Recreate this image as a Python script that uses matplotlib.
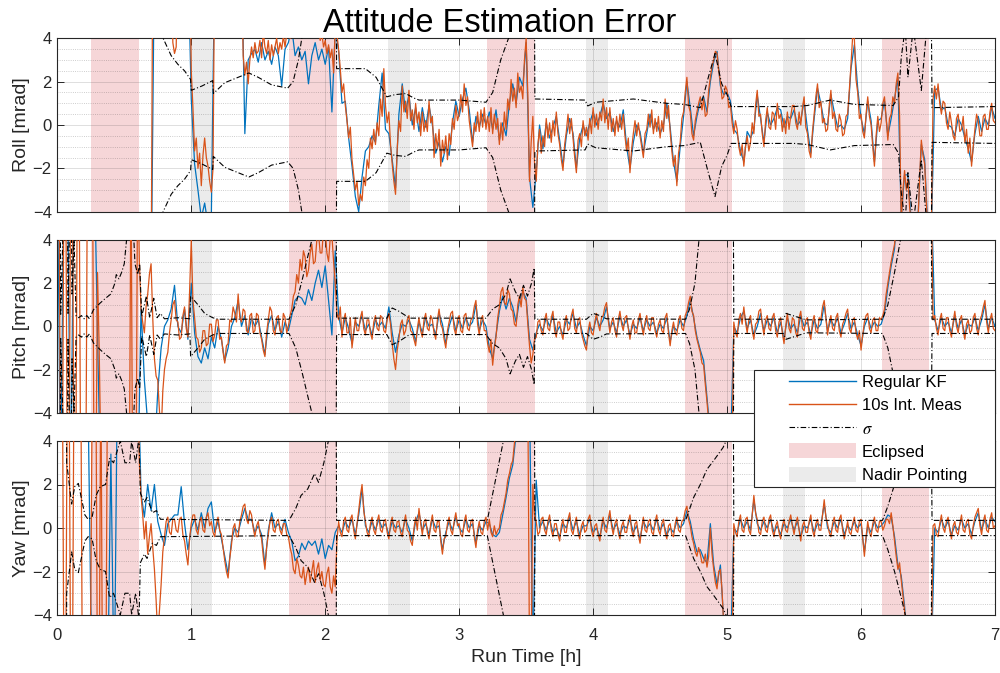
import numpy as np
import matplotlib
matplotlib.use("Agg")
import matplotlib.pyplot as plt
from matplotlib.lines import Line2D
from matplotlib.patches import Patch, Rectangle
from matplotlib.ticker import MultipleLocator

plt.rcParams['font.family'] = ['Liberation Sans', 'DejaVu Sans']
plt.rcParams['mathtext.fontset'] = 'stix'

# ---------------------------------------------------------------------------
# Attitude estimation error [mrad]
#   Regular KF         : sampled every 0.025 h  (281 samples, 0 .. 7 h)
#   10s Int. Meas      : sampled every 0.0125 h (561 samples, 0 .. 7 h)
# ---------------------------------------------------------------------------
time_kf = np.arange(281) * 0.025
time_int = np.arange(561) * 0.0125

roll_kf = [
    -8, -8, -8, -8, -8, -8, -8, -8, -8, -8,
    -8, -8, -8, -8, -8, -8, -8, -8, -8, -8,
    -8, -8, -8, -8, -8, -8, -8, -8, -8, 8,
    8, 8, 8, 8, 8, 8, 8, 8, 8, 8,
    1.2, -1.8, -3.0, -4.3, -3.6, -4.6, -4.2, 8, 8, 8,
    8, 8, 8, 8, 8, 8, -0.4, 3.0, 3.3, 3.5,
    2.9, 3.8, 3.0, 3.4, 2.8, 3.6, 3.2, 1.8, 3.5, 3.8,
    4.5, 3.2, 3.6, 3.0, 3.4, 1.9, 3.2, 3.8, 3.0, 3.5,
    2.8, 3.6, 0.6, 4.4, 3.4, 1.0, 1.1, -0.6, -1.9, -3.3,
    -4.0, -2.4, -1.2, -1.0, -0.5, -0.8, 0.9, 2.4, -0.2, -0.4,
    -1.6, -2.9, 0.5, 1.9, 0.6, 1.4, 0.0, 0.8, -0.3, 0.8,
    -0.1, 0.9, 0.0, -1.3, -0.8, -1.7, -1.0, -1.4, 0.1, 1.1,
    0.4, 1.2, 1.7, 0.7, -0.8, 0.4, -0.1, 0.5, 0.0, 0.6,
    -0.2, 0.7, -0.7, 0.1, -0.5, 1.0, 1.9, 1.0, 2.2, 1.8,
    3.8, -2.4, -3.8, -2.2, 0.0, -1.1, 0.1, -0.6, -0.1, 0.4,
    -0.7, -1.9, -0.5, 0.3, -0.4, -2.0, -0.6, 0.0, -0.5, 0.1,
    0.6, 0.0, 0.4, 1.0, 0.3, 0.6, -0.3, 0.2, -0.1, 0.7,
    -1.0, -2.0, -0.8, 0.0, -0.3, -1.3, -0.4, 0.5, -0.2, 0.1,
    -0.4, 0.0, 1.0, -0.1, -1.7, -2.6, -1.0, 0.4, 2.0, 0.8,
    -0.5, 0.4, 1.1, 1.3, 0.6, 2.0, 2.9, 3.4, 1.8, 1.4,
    1.5, 1.1, -0.2, -0.4, -1.2, -1.7, -0.3, -0.6, -0.2, 1.4,
    0.3, -0.8, 0.6, 0.0, 0.3, 0.8, 0.7, -0.1, 0.4, 0.3,
    0.7, 0.0, 0.2, 1.1, -0.2, -1.3, 0.3, 1.7, 1.0, 0.1,
    0.0, 1.4, 0.6, -0.1, 0.0, -0.2, 0.3, 2.6, 3.7, 1.7,
    0.3, -0.4, 1.1, 0.2, -1.7, 0.2, 0.3, 1.1, -0.5, 0.3,
    1.2, 2.2, -4.3, -2.3, -2.3, -4.5, -5.0, -4.3, -0.9, -1.6,
    -5.0, -5.0, 1.6, 1.7, 0.7, 0.8, 0.0, -0.1, -0.5, 0.3,
    0.0, -0.6, -1.1, -1.7, -0.4, 0.4, -0.3, 0.3, 0.0, 0.8,
    0.3,
]
roll_int = [
    -8, -8, -8, -8, -8, -8, -8, -8, -8, -8, -8, -8, -8, -8, -8, -8, -8, -8, -8, -8,
    -8, -8, -8, -8, -8, -8, -8, -8, -8, -8, -8, -8, -8, -8, -8, -8, -8, -8, -8, -8,
    -8, -8, -8, -8, -8, -8, -8, -8, -8, -8, -8, -8, -8, -8, -8, -8, -8, 8, 8, 8,
    8, 8, 8, 8, 8, 8, 8, 8, 8, 3.8, 3.3, 3.6, 8, 8, 8, 8, 8, 8, 8, 8,
    2.5, 0.8, -1.2, -0.6, -2.0, -1.3, -2.8, -1.4, -0.6, -1.5, -1.9, -2.6, -3.1, -2.0, 8, 8, 8, 8, 8, 8,
    8, 8, 8, 8, 8, 8, 8, 8, 8, 8, 8, 3.2, 2.3, 2.9, 1.9, 3.0, 3.6, 3.1, 3.8, 3.3,
    3.4, 3.9, 3.1, 4.3, 3.6, 3.3, 3.9, 3.0, 3.7, 3.2, 3.6, 4.0, 3.3, 3.8, 3.5, 4.1, 3.6, 4.2, 4.5, 4.0,
    5.0, 4.5, 4.7, 5.2, 4.8, 4.2, 4.6, 4.9, 4.5, 4.1, 4.4, 4.8, 4.6, 5.1, 4.7, 4.3, 4.5, 3.9, 4.2, 3.6,
    3.9, 3.3, 3.7, 3.1, 3.5, 2.4, 4.5, 4.2, 3.5, 2.6, 1.5, 1.9, 0.9, 0.2, -0.6, -0.1, -1.6, -2.3, -3.0, -2.6,
    -3.7, -3.2, -3.5, -2.4, -2.8, -1.6, -2.0, -0.6, -1.1, -0.2, -0.9, 0.1, -0.5, 1.2, 0.4, 2.6, 0.9, 0.1, 0.6, -0.9,
    -1.8, -2.6, -3.2, -1.1, 0.2, -0.3, 1.8, 0.6, 1.1, 0.3, 1.6, 0.2, 0.7, -0.2, 1.0, 0.1, 0.6, -0.5, 0.6, -0.3,
    0.2, -0.3, 1.1, 0.1, 0.4, -1.5, -0.4, -1.1, -0.2, -1.9, -0.7, -1.3, -0.5, -1.6, -0.4, -0.9, 0.3, -0.2, 0.9, 0.2,
    0.5, 1.4, 0.6, 1.9, 0.9, 1.3, 0.2, -0.4, -1.0, 0.1, -0.3, 0.6, -0.3, 0.7, -0.1, 0.8, -0.2, 0.4, -0.3, 0.8,
    -0.4, 0.5, -0.2, 0.3, -0.9, 0.1, -0.7, 0.6, -0.2, 1.2, 0.7, 2.1, 1.1, 1.7, 0.8, 2.4, 1.5, 1.8, 1.2, 3.0,
    4.0, 1.4, -2.6, -0.8, 0.4, -1.7, -2.6, -0.9, -0.2, -1.3, -0.5, -1.0, 0.3, -0.6, 0.1, -0.8, 0.2, -0.5, 0.6, -0.4,
    -0.9, -1.6, -2.1, -0.9, -0.3, 0.5, -0.4, 0.3, -0.6, -1.5, -2.2, -0.7, -0.4, -1.0, 0.2, -0.5, -0.1, -0.7, 0.3, -0.4,
    0.8, -0.1, 0.5, -0.2, 0.6, 0.2, 1.2, 0.1, 0.8, -0.2, 0.8, -0.3, 0.3, -0.5, 0.4, -0.3, 0.5, -0.2, 0.5, -0.5,
    -1.2, -0.6, -2.2, -1.1, -0.4, 0.2, -0.5, 0.1, -0.5, -1.0, -1.5, -0.4, -0.2, 0.5, -0.1, 0.7, -0.4, 0.3, -0.3, 0.4,
    -0.6, 0.2, -0.3, 1.2, 0.3, 0.9, -0.3, -1.2, -1.9, -1.4, -2.8, -1.3, -0.8, 0.3, 0.6, 1.5, 2.2, 0.9, 0.6, -0.4,
    -0.7, 0.2, 0.6, 1.0, 1.3, 0.7, 1.2, 0.4, 0.5, 1.6, 2.2, 2.7, 3.0, 3.4, 3.3, 2.5, 2.0, 1.2, 1.3, 1.8,
    1.6, 0.8, 0.9, 0.1, -0.4, 0.2, -0.2, -1.0, -1.4, -0.9, -1.9, -1.0, -0.5, -1.2, -0.8, 0.1, -0.4, 0.9, 1.6, 0.4,
    0.5, -0.4, -1.0, 0.2, 0.8, -0.1, -0.2, 0.6, 0.5, -0.2, 1.0, 0.3, 0.5, -0.3, 0.3, -0.4, 0.6, -0.2, 0.4, 0.9,
    0.9, 0.1, -0.2, 0.6, 0.0, 0.8, 1.3, -0.1, -0.4, -1.2, -1.5, -0.3, 0.5, 1.3, 1.9, 0.8, 1.1, 0.1, 0.3, -0.3,
    -0.2, 0.9, 1.6, 0.3, 0.6, -0.2, -0.3, 0.5, 0.2, -0.5, -0.4, 0.4, 0.5, 1.6, 2.8, 4.1, 4.0, 2.1, 1.5, 0.3,
    0.5, -0.3, -0.6, 0.5, 1.3, 0.4, 0.0, -1.0, -1.9, -0.5, 0.4, -0.3, 0.1, 1.0, 1.3, 0.3, -0.7, 0.3, 0.5, 1.3,
    1.0, 1.9, 2.4, 0.5, -4.5, -3.0, -2.1, -3.0, -2.5, -3.8, -4.5, -5.0, -5.0, -5.0, -4.5, -2.4, -0.7, -1.4, -1.8, -3.6,
    -5.0, -5.0, -5.0, 1.2, 1.8, 1.2, 1.9, 1.0, 0.5, 1.1, 1.0, 0.1, -0.2, 0.6, 0.1, -0.5, -0.7, 0.3, 0.5, -0.3,
    -0.2, 0.4, -0.8, -0.2, -1.3, -0.6, -1.9, -1.0, -0.2, 0.5, 0.2, -0.5, -0.5, 0.4, 0.5, -0.2, -0.2, 0.6, 1.0, 0.2,
    0.1,
]

pitch_kf = [
    8, -8, 8, 8, -8, 8, 8, 8, 8, 8,
    8, 8, -0.3, -8, -8, -8, -8, -8, -8, -8,
    -8, -8, -8, -8, -8, 0.9, -2.5, -4.5, -6, -6,
    -3.0, -1.0, 0.0, 0.3, 0.8, 1.9, 0.0, -0.3, 0.8, -0.6,
    2.0, -0.3, -1.4, -1.7, -1.0, -1.5, -0.5, -1.0, 0.0, -0.6,
    -1.6, -1.0, 0.0, 0.4, 1.2, 0.0, 0.5, -0.4, 0.4, 0.0,
    0.3, -0.5, -1.3, 0.1, 0.5, -0.2, 0.3, -0.5, 0.2, -0.2,
    0.5, 1.2, 1.4, 1.3, 1.0, 1.7, 1.2, 2.0, 2.6, 1.8,
    2.8, 1.2, -0.4, 3.5, 0.5, -0.3, 0.4, -0.1, -0.8, 0.2,
    0.0, 0.5, -0.2, 0.1, -0.4, 0.3, 0.0, 0.2, -0.1, 0.9,
    -0.3, -1.2, -0.4, 0.1, 0.0, 0.3, -0.1, -0.7, 0.2, -0.3,
    0.4, 0.0, 0.1, -0.4, 0.6, 0.1, -0.8, 0.0, 0.5, -0.2,
    0.3, -0.1, 0.4, 0.0, 0.2, 1.0, -0.2, 0.3, 0.0, -1.0,
    -1.5, -0.4, 0.7, 1.4, 0.8, 1.3, 0.9, 0.2, 1.2, 1.6,
    1.3, -0.6, -1.1, -0.3, 0.1, -0.2, 0.4, 0.0, 0.5, -0.3,
    0.0, -0.4, 0.3, 0.1, 0.6, -0.1, 0.2, -0.4, -0.9, 0.0,
    -0.2, 0.4, 0.0, 0.3, 0.9, -0.1, 0.2, -0.3, 0.5, 0.0,
    0.3, -0.4, 0.1, -0.1, 0.4, -0.2, 0.3, 0.0, 0.2, -0.3,
    0.1, -0.1, 0.4, -0.7, 0.0, -0.2, 0.3, 0.0, 0.5, 1.2,
    0.4, -0.5, -1.1, -1.6, -3.3, -5, -6, -6, -6, -6,
    -6, -6, 0.0, -0.3, 0.4, 0.7, -0.1, 0.3, -0.4, 0.0,
    0.6, -0.2, 0.3, 0.0, 0.4, -0.3, 0.2, -0.6, 0.4, -0.1,
    0.1, -0.3, 0.5, 0.0, 0.2, -0.4, 0.3, -0.1, 0.1, 1.0,
    -0.2, 0.3, 0.0, 0.4, -0.3, 0.1, 0.6, -0.1, 0.2, -0.4,
    -0.9, 0.0, 0.4, -0.1, 0.2, 0.0, 0.1, 0.6, 1.8, 2.8,
    3.6, 6, 6, 6, 6, 6, 6, 6, 6, 6,
    6, 6, 0.3, -0.2, 0.4, 0.0, 0.2, -0.3, 0.5, -0.1,
    0.3, -0.4, 0.1, 0.0, 0.4, -0.2, 0.3, 1.0, -0.1, 0.4,
    0.0,
]
pitch_int = [
    8, 8, -8, -8, 8, 8, -8, -8, 8, 8, -8, -8, 8, 8, -8, -8, -8, -8, 8, 8,
    8, 8, -8, -8, 2.5, -1.0, -6, -8, -8, -8, -8, -8, -8, -8, -8, -8, -8, -8, -8, -8,
    -8, -8, -8, -8, 8, -8, -8, -8, 8, 3.0, 0.8, 0.2, -0.3, 0.9, 1.5, 2.4, 2.9, 0.4, -1.5, -2.3,
    -2.5, -3.9, -5.0, -3.0, -2.0, -1.5, -1.2, -0.3, 0.3, 1.0, 1.2, 0.3, 0.2, -0.6, -0.5, 0.5, 0.9, -0.1, -0.5, 1.6,
    4.0, 1.2, 0.4, -0.5, -0.6, -1.2, -1.0, -0.2, -0.2, -0.9, -0.8, 0.1, 0.1, -0.7, -0.4, 0.3, 0.3, -0.6, -0.5, -1.2,
    -1.7, -0.9, -0.8, 0.3, 0.2, 0.9, 0.6, 0.2, 1.5, 0.4, 0.2, 0.8, 0.7, -0.2, -0.3, 0.5, 0.6, -0.3, -0.2, 0.6,
    0.5, -0.3, -0.6, -1.1, -1.4, -0.3, 0.3, 0.9, 0.7, -0.2, -0.4, 0.4, 0.5, -0.2, -0.3, 0.6, 0.4, -0.3, 0.0, 0.5,
    0.8, 1.4, 1.6, 2.4, 2.0, 3.1, 2.6, 3.5, 3.2, 2.3, 2.6, 3.4, 3.8, 2.9, 3.0, 4.0, 4.3, 3.4, 3.4, 4.5,
    4.5, 3.4, 3.0, 4.1, 4.2, 3.0, 2.0, 0.6, 0.3, 0.9, -0.5, 0.3, 0.6, -0.3, -0.3, 0.4, -1.0, -0.3, 0.4, -0.2,
    -0.2, 0.4, 0.7, -0.1, -0.4, 0.3, 0.3, -0.3, -0.6, 0.2, 0.5, -0.1, -0.2, 0.5, 0.4, -0.2, -0.3, 0.3, 0.6, 0.1,
    -0.8, -1.5, -2.0, -1.1, -0.6, 0.1, 0.3, -0.4, -0.2, 0.3, 0.5, -0.2, -0.3, -0.6, -0.9, -0.1, 0.4, -0.2, -0.5, 0.3,
    0.6, -0.1, -0.2, 0.5, 0.3, -0.3, -0.6, 0.3, 0.8, 0.1, -0.1, -0.6, -1.0, -0.2, 0.2, 0.6, 0.7, -0.1, -0.4, 0.3,
    0.5, -0.2, -0.3, 0.5, 0.6, -0.1, -0.2, 0.3, 0.4, 0.9, 1.2, 0.1, -0.4, 0.3, 0.5, -0.2, -0.2, -0.8, -1.2, -0.6,
    -1.8, -1.0, -0.5, 0.4, 0.9, 1.6, 1.8, 1.1, 1.0, 1.7, 1.5, 0.8, 0.7, 0.1, 0.0, 1.0, 1.4, 0.9, 1.8, 1.3,
    1.2, 0.1, -0.9, -1.7, -1.3, -0.6, -0.5, 0.2, 0.3, -0.2, -0.4, 0.3, 0.6, -0.1, -0.2, 0.4, 0.7, -0.2, -0.5, 0.2,
    0.2, -0.3, -0.6, 0.2, 0.5, -0.2, -0.1, 0.5, 0.8, -0.1, -0.3, 0.3, 0.4, -0.3, -0.6, -0.9, -1.1, -0.2, 0.2, -0.3,
    -0.4, 0.2, 0.6, 0.1, -0.2, 0.4, 0.5, 0.9, 1.1, 0.3, -0.3, 0.2, 0.4, -0.2, -0.5, 0.3, 0.7, 0.1, -0.2, 0.4,
    0.5, -0.1, -0.6, 0.0, 0.3, -0.3, -0.3, 0.3, 0.6, 0.0, -0.4, 0.2, 0.5, -0.1, -0.2, 0.4, 0.4, -0.2, -0.5, 0.1,
    0.3, -0.2, -0.3, 0.4, 0.6, -0.3, -0.9, -0.2, 0.2, -0.3, -0.4, 0.3, 0.5, -0.1, -0.2, 0.5, 0.7, 1.1, 1.4, 0.7,
    0.5, -0.2, -0.6, -0.9, -1.2, -1.7, -1.8, -2.7, -3.5, -4.4, -5, -6, -6, -6, -6, -6, -6, -6, -6, -6,
    -6, -6, -6, -6, 0.2, -0.3, -0.5, 0.3, 0.6, 0.1, 0.9, 0.2, -0.3, 0.3, 0.5, -0.2, -0.6, 0.1, 0.2, 0.7,
    0.8, 0.1, -0.4, 0.3, 0.5, -0.1, -0.2, 0.4, 0.6, -0.2, -0.5, 0.2, 0.4, -0.3, -0.8, 0.0, 0.6, -0.1, -0.3, 0.4,
    0.3, -0.3, -0.5, 0.4, 0.7, -0.1, -0.2, 0.3, 0.4, -0.3, -0.6, 0.2, 0.5, -0.2, -0.3, 0.4, 0.3, 0.9, 1.2, 0.4,
    -0.4, 0.2, 0.5, -0.1, -0.2, 0.4, 0.6, -0.2, -0.5, 0.1, 0.3, 0.6, 0.8, -0.1, -0.3, 0.3, 0.4, -0.3, -0.6, -0.2,
    -1.1, -0.4, 0.2, 0.5, 0.6, -0.1, -0.3, 0.3, 0.4, -0.2, -0.2, 0.4, 0.3, 0.5, 0.8, 1.5, 2.0, 2.5, 3.0, 3.4,
    3.8, 4.6, 6, 6, 6, 6, 6, 6, 6, 6, 6, 6, 6, 6, 6, 6, 6, 6, 6, 6,
    6, 6, 6, 0.3, 0.5, -0.1, -0.4, 0.3, 0.6, -0.1, -0.2, 0.4, 0.4, -0.2, -0.5, 0.2, 0.7, 0.0, -0.3, 0.3,
    0.5, -0.2, -0.6, 0.1, 0.3, -0.3, -0.2, 0.4, 0.6, -0.1, -0.4, 0.3, 0.5, 0.9, 1.2, 0.2, -0.3, 0.3, 0.6, -0.1,
    -0.2,
]

yaw_kf = [
    8, 8, 8, 8, 8, 8, 8, 8, 8, 8,
    -3.6, -8, -8, -8, -8, -8, 3.4, -8, 8, 8,
    8, 8, 8, 8, 8, 1.6, 0.5, 2.0, 0.8, 2.0,
    0.3, -0.3, -0.8, 0.2, 0.4, 0.6, 0.6, 1.9, 0.2, -1.0,
    0.0, 0.4, -0.1, 0.7, 0.0, 0.9, 1.2, -0.2, 0.3, -0.5,
    -1.3, -2.1, -0.6, 0.0, -0.2, 0.4, 0.9, 0.4, 0.4, -0.2,
    0.1, -0.3, -1.7, -0.1, 0.7, 0.0, 0.2, -0.1, 0.4, -0.2,
    -0.6, -1.5, -1.3, -0.7, -1.0, -0.6, -0.8, -0.6, -1.2, -0.5,
    -1.4, -0.8, -1.0, -0.2, 0.1, -0.2, 0.3, 0.0, 0.4, -0.3,
    0.6, 1.8, 0.1, -0.2, 0.3, -0.1, 0.4, 0.0, 0.2, -0.3,
    0.3, 0.0, 0.1, -0.2, 0.4, 0.0, -0.6, 0.3, 0.7, -0.1,
    0.2, -0.3, 0.4, 0.0, 0.1, -1.0, -0.2, 0.3, -0.1, 0.5,
    0.0, -0.2, 0.4, 0.0, 0.2, -0.7, 0.1, -0.1, 0.3, 0.2,
    -0.3, -0.4, -0.2, 0.6, 1.4, 2.3, 2.9, 4.3, 6, 6,
    6, 6, -6, 2.2, 0.0, 0.3, -0.1, 0.4, -0.2, 0.0,
    -0.4, 0.2, 0.0, 0.5, -0.1, 0.3, -0.3, 0.1, 0.1, 0.4,
    -0.2, 0.0, -0.4, 0.3, 0.0, 0.6, -0.1, 0.2, -0.3, 0.1,
    0.0, 0.4, -0.2, 0.1, -0.5, 0.3, 0.0, 0.2, -0.1, 0.4,
    -0.1, 0.2, -0.3, 0.0, -0.2, 0.3, 0.0, 0.2, 0.8, 0.3,
    -0.5, -1.1, -1.0, -1.4, -1.6, 0.2, -1.7, -2.6, -1.7, -4.3,
    -6, -6, 0.0, -0.2, 0.4, 0.0, 0.3, -0.1, 1.3, 0.2,
    -0.1, 0.3, 0.0, 0.4, -0.2, 0.1, -0.3, 0.2, 0.0, 0.4,
    -0.1, 0.3, -0.4, 0.1, 0.0, 0.4, -0.2, 0.2, 0.1, 1.1,
    0.0, -0.2, 0.3, 0.0, 0.4, -0.3, 0.1, -0.1, 0.3, 0.0,
    0.2, -1.1, 0.1, -0.2, 0.3, 0.0, 0.1, 0.3, 0.6, 0.5,
    -0.4, -1.7, -2.2, -3.6, -6, -6, -6, -6, -6, -6,
    -6, -6, 0.0, -0.2, 0.4, 0.0, 0.3, -0.3, 0.1, -0.1,
    0.4, 0.0, 0.2, -0.3, 0.3, 0.7, -0.1, 0.4, 0.0, 0.5,
    0.3,
]
yaw_int = [
    8, 8, 8, 8, -8, -8, 8, 8, -8, -8, 8, 8, 8, 8, 8, -8, -8, -8, -8, -8,
    -3.4, 8, 8, 8, -8, -8, 8, -8, -8, -8, 8, 8, 8, 8, 8, 8, 8, 8, 8, 8,
    8, 8, 8, 8, 8, 8, 8, 8, 8, 3.0, 1.5, 0.6, -0.5, 0.3, -1.2, -0.4, 0.2, -0.9, -1.9, -3.3,
    -5.0, -3.8, -2.6, -1.1, -0.4, 0.3, 0.5, -0.2, -0.3, 0.4, 0.4, -0.1, -0.2, 0.4, 0.5, -0.3, -0.6, -1.2, -1.7, -0.5,
    0.2, 0.6, 0.6, -0.1, -0.3, 0.3, 0.5, -0.1, -0.2, 0.5, 0.7, 0.1, 0.3, -0.2, -0.4, 0.2, 0.5, -0.1, -0.3, -0.9,
    -1.5, -2.0, -2.3, -1.4, -0.8, 0.0, 0.2, -0.4, -0.4, 0.3, 0.6, 1.0, 1.1, 0.4, 0.2, 0.8, 0.6, 0.0, -0.4, 0.1,
    0.3, -0.2, -0.5, -1.3, -1.9, -0.9, -0.3, 0.3, 0.5, -0.1, -0.2, 0.3, 0.4, -0.1, -0.3, 0.2, 0.2, -0.3, -0.4, -0.9,
    -1.2, -1.9, -2.1, -1.4, -1.7, -2.2, -2.3, -1.8, -2.6, -2.1, -1.8, -2.5, -2.0, -1.5, -2.5, -1.9, -1.6, -2.4, -2.0, -2.6,
    -2.7, -2.1, -1.8, -2.7, -3.0, -2.2, -2.7, -0.6, 0.3, -0.2, -0.4, 0.3, 0.5, -0.1, -0.2, 0.4, 0.6, -0.1, -0.5, 0.2,
    0.8, 1.5, 2.0, 0.8, 0.3, -0.2, -0.4, 0.2, 0.5, -0.1, -0.3, 0.3, 0.6, -0.1, -0.2, 0.3, 0.4, -0.2, -0.5, 0.2,
    0.5, -0.1, -0.2, 0.3, 0.3, -0.2, -0.4, 0.2, 0.6, -0.1, -0.2, -0.6, -0.8, 0.0, 0.5, -0.1, 0.9, 0.2, -0.3, 0.3,
    0.4, -0.2, -0.5, 0.2, 0.6, -0.1, -0.2, 0.3, 0.3, -0.6, -1.2, -0.5, -0.4, 0.2, 0.5, -0.1, -0.3, 0.3, 0.7, 0.1,
    0.2, -0.3, -0.4, 0.3, 0.6, -0.1, -0.2, 0.3, 0.4, -0.4, -0.9, -0.1, 0.3, -0.2, -0.3, 0.3, 0.5, -0.1, 0.4, -0.2,
    -0.4, 0.1, -0.3, -0.1, 0.0, 0.6, 0.8, 1.2, 1.6, 2.2, 2.5, 2.9, 3.1, 3.9, 4.5, 5.2, 6, 6, 6, 6,
    6, 6, -6, -6, 2.0, 0.6, 0.3, -0.3, -0.2, 0.4, 0.5, -0.1, -0.3, 0.3, 0.6, -0.1, -0.4, 0.2, 0.2, -0.3,
    -0.6, 0.1, 0.4, -0.2, -0.2, 0.4, 0.7, -0.1, -0.3, 0.2, 0.5, -0.2, -0.5, 0.1, 0.3, -0.2, -0.1, 0.4, 0.6, -0.1,
    -0.4, 0.1, 0.2, -0.3, -0.6, 0.1, 0.5, -0.1, -0.2, 0.4, 0.8, 0.1, -0.3, 0.2, 0.4, -0.2, -0.5, 0.1, 0.3, -0.2,
    -0.2, 0.3, 0.6, -0.1, -0.4, 0.2, 0.3, -0.3, -0.7, 0.0, 0.5, -0.1, -0.2, 0.3, 0.4, -0.2, -0.3, 0.3, 0.6, -0.1,
    -0.3, 0.2, 0.4, -0.2, -0.5, 0.1, 0.2, -0.3, -0.4, 0.2, 0.5, -0.1, -0.2, 0.3, 0.4, 0.8, 1.0, 0.4, 0.1, -0.4,
    -0.7, -1.1, -1.3, -0.9, -1.2, -1.6, -1.6, -1.2, -1.8, -1.3, 0.0, -1.2, -1.9, -2.5, -2.8, -2.0, -1.9, -2.9, -4.5, -5.5,
    -6, -6, -6, -6, 0.2, -0.2, -0.4, 0.3, 0.6, -0.1, -0.2, 0.4, 0.5, -0.1, -0.3, 0.6, 1.5, 0.7, 0.4, -0.2,
    -0.3, 0.3, 0.5, -0.1, -0.2, 0.4, 0.6, -0.1, -0.4, 0.1, 0.3, -0.2, -0.5, 0.1, 0.4, -0.1, -0.2, 0.3, 0.6, 0.1,
    -0.3, 0.2, 0.5, -0.1, -0.6, 0.1, 0.3, -0.2, -0.2, 0.3, 0.6, -0.1, -0.4, 0.2, 0.4, -0.1, -0.1, 0.6, 1.3, 0.5,
    0.2, -0.2, -0.4, 0.2, 0.5, -0.1, -0.2, 0.4, 0.6, -0.1, -0.5, -0.1, 0.3, -0.2, -0.3, 0.2, 0.5, -0.1, -0.2, 0.3,
    0.4, -0.5, -1.3, -0.4, 0.3, -0.2, -0.4, 0.2, 0.5, -0.1, -0.2, 0.3, 0.3, -0.1, 0.1, 0.4, 0.4, 0.2, 0.7, 0.1,
    -0.6, -1.3, -1.9, -1.6, -2.4, -3.1, -3.8, -4.7, -6, -6, -6, -6, -6, -6, -6, -6, -6, -6, -6, -6,
    -6, -6, -6, 0.1, 0.2, -0.3, -0.4, 0.2, 0.6, 0.0, -0.2, 0.3, 0.5, -0.1, -0.5, 0.1, 0.3, -0.2, -0.3, 0.2,
    0.6, -0.1, -0.2, 0.3, 0.4, -0.3, -0.5, 0.1, 0.5, 0.7, 0.9, 0.1, -0.3, 0.3, 0.6, -0.1, -0.2, 0.4, 0.7, 0.0,
    0.1,
]

# 1-sigma bound of the filter, (time [h], sigma [mrad])
roll_sigma = [
    (0.0, 12), (0.70, 6.0), (0.79, 4.0), (0.85, 3.2), (0.90, 2.8), (0.95, 2.5),
    (0.995, 2.1), (1.0, 1.6), (1.08, 1.8), (1.16, 2.05), (1.165, 1.45),
    (1.25, 1.95), (1.35, 2.2), (1.43, 2.4), (1.5, 2.2), (1.6, 1.85), (1.72, 1.7),
    (1.76, 2.0), (1.8, 3.0), (1.83, 4.2), (1.9, 6.0), (2.08, 9.0), (2.085, 2.6),
    (2.3, 2.6), (2.38, 2.2), (2.46, 1.3), (2.52, 1.4), (2.6, 1.45), (2.66, 1.25),
    (2.7, 1.15), (3.0, 1.15), (3.2, 1.05), (3.25, 1.5), (3.31, 3.0), (3.38, 4.2),
    (3.45, 6.0), (3.56, 9.0), (3.565, 1.2), (3.94, 1.15), (3.96, 0.88),
    (4.02, 1.05), (4.3, 1.2), (4.55, 1.0), (4.68, 0.95), (4.8, 0.8), (4.86, 2.2),
    (4.91, 3.3), (4.96, 1.9), (5.0, 1.4), (5.03, 0.85), (5.5, 0.85), (5.6, 0.9),
    (5.77, 1.15), (5.95, 0.95), (6.24, 0.9), (6.28, 1.3), (6.30, 3.1),
    (6.33, 4.5), (6.35, 2.2), (6.39, 4.5), (6.45, 1.6), (6.49, 4.5), (6.52, 9.0),
    (6.53, 0.8), (7.0, 0.85),
]
pitch_sigma = [
    (0.0, 12), (0.02, 12), (0.025, 0.5), (0.05, 6.0), (0.07, 12), (0.08, 0.6),
    (0.1, 8.0), (0.11, 1.5), (0.125, 4.0), (0.14, 0.5), (0.16, 0.4), (0.18, 0.5),
    (0.2, 0.35), (0.22, 0.5), (0.24, 0.35), (0.27, 0.77), (0.32, 1.08),
    (0.36, 1.3), (0.4, 1.5), (0.43, 2.0), (0.44, 2.4), (0.46, 2.2), (0.48, 2.5),
    (0.5, 2.9), (0.52, 4.2), (0.57, 4.2), (0.58, 2.9), (0.6, 2.4), (0.615, 2.9),
    (0.63, 0.45), (0.665, 1.4), (0.69, 0.4), (0.72, 1.3), (0.745, 0.4),
    (0.77, 0.6), (0.8, 0.35), (0.9, 0.4), (0.99, 0.35), (0.995, 1.4),
    (1.05, 1.0), (1.1, 0.6), (1.16, 0.4), (1.2, 0.33), (1.73, 0.33), (1.78, 1.0),
    (1.83, 2.2), (1.88, 3.5), (1.92, 4.5), (2.08, 8.0), (2.085, 0.38),
    (2.46, 0.38), (2.5, 0.85), (2.55, 0.7), (2.63, 0.38), (3.2, 0.38),
    (3.25, 0.8), (3.3, 1.0), (3.35, 1.5), (3.38, 2.2), (3.42, 1.6), (3.45, 1.3),
    (3.48, 1.9), (3.51, 1.4), (3.54, 2.0), (3.56, 2.7), (3.565, 0.33),
    (3.95, 0.33), (4.0, 0.6), (4.05, 0.5), (4.1, 0.35), (4.69, 0.33),
    (4.72, 0.8), (4.76, 2.0), (4.79, 4.0), (4.85, 6.0), (5.045, 8.0),
    (5.05, 0.33), (5.42, 0.33), (5.44, 0.6), (5.59, 0.3), (6.16, 0.33),
    (6.2, 1.0), (6.25, 2.5), (6.3, 4.2), (6.52, 8.0), (6.53, 0.33), (7.0, 0.33),
]
yaw_sigma = [
    (0.0, 12), (0.065, 12), (0.07, 3.0), (0.107, 1.1), (0.13, 1.9),
    (0.157, 2.05), (0.206, 0.6), (0.23, 0.4), (0.26, 0.5), (0.29, 1.5),
    (0.32, 1.9), (0.36, 2.0), (0.39, 3.2), (0.42, 3.0), (0.47, 4.0),
    (0.505, 3.0), (0.54, 3.0), (0.555, 4.0), (0.585, 3.0), (0.61, 4.2),
    (0.62, 1.6), (0.65, 1.2), (0.67, 1.4), (0.71, 0.7), (0.74, 0.8), (0.77, 0.4),
    (1.73, 0.35), (1.78, 0.9), (1.82, 1.5), (1.87, 1.8), (1.92, 2.5),
    (1.95, 2.1), (1.99, 3.0), (2.03, 4.2), (2.08, 8.0), (2.085, 0.35),
    (3.21, 0.35), (3.33, 4.0), (3.4, 6.0), (3.56, 8.0), (3.565, 0.35),
    (4.69, 0.35), (4.75, 1.4), (4.8, 2.0), (4.85, 2.7), (4.9, 3.1), (4.97, 3.7),
    (5.03, 4.5), (5.045, 8.0), (5.05, 0.35), (6.16, 0.35), (6.2, 1.0),
    (6.25, 2.0), (6.3, 3.2), (6.35, 4.5), (6.52, 8.0), (6.53, 0.35), (7.0, 0.35),
]

# Mission phases [h]
eclipse_start = [0.25, 1.73, 3.21, 4.685, 6.16]
eclipse_end = [0.61, 2.085, 3.565, 5.04, 6.51]
nadir_start = [0.995, 2.47, 3.945, 5.42]
nadir_end = [1.157, 2.635, 4.11, 5.585]

panel_labels = ['Roll [mrad]', 'Pitch [mrad]', 'Yaw [mrad]']
x_ticks = [0, 1, 2, 3, 4, 5, 6, 7]
y_ticks = [-4, -2, 0, 2, 4]

# ---------------------------------------------------------------------------
# Styling
# ---------------------------------------------------------------------------
C_KF = '#0072BD'
C_INT = '#D95319'
C_ECL = '#F6D6D8'
C_NADIR = '#EBEBEB'
C_AX = '#262626'
SIGMA_LS = (0, (5, 2, 1, 2))

fig = plt.figure(figsize=(10, 6.73), dpi=100)
H = 673.0
left, width = 0.0573, 0.9377
boxes = [(38.3, 211.7), (240.0, 412.7), (441.0, 615.0)]

series = [(roll_kf, roll_int, roll_sigma),
          (pitch_kf, pitch_int, pitch_sigma),
          (yaw_kf, yaw_int, yaw_sigma)]

for k, ((top, bot), (kf, intm, sig)) in enumerate(zip(boxes, series)):
    ax = fig.add_axes([left, 1 - bot / H, width, (bot - top) / H])
    for a, b in zip(eclipse_start, eclipse_end):
        ax.axvspan(a, b, color=C_ECL, lw=0, zorder=0)
    for a, b in zip(nadir_start, nadir_end):
        ax.axvspan(a, b, color=C_NADIR, lw=0, zorder=0)

    ax.plot(time_kf, kf, color=C_KF, lw=0.9, zorder=2)
    ax.plot(time_int, intm, color=C_INT, lw=0.9, zorder=3)
    st, sv = np.array(sig, dtype=float).T
    ax.plot(st, sv, color='k', ls=SIGMA_LS, lw=0.8, zorder=4)
    ax.plot(st, -sv, color='k', ls=SIGMA_LS, lw=0.8, zorder=4)

    ax.set_xlim(0, 7)
    ax.set_ylim(-4, 4)
    ax.set_xticks(x_ticks)
    ax.set_yticks(y_ticks)
    ax.yaxis.set_minor_locator(MultipleLocator(0.5))
    ax.set_axisbelow(True)
    ax.grid(True, which='major', color=C_AX, alpha=0.15, lw=0.7)
    ax.grid(True, which='minor', axis='y', color=C_AX, alpha=0.3, lw=0.6, ls=':')
    ax.tick_params(which='major', direction='in', length=5, width=0.7,
                   top=True, right=True, labelsize=12, colors=C_AX)
    ax.tick_params(axis='y', pad=4)
    ax.tick_params(axis='x', pad=9)
    ax.tick_params(which='minor', length=0)
    for s in ax.spines.values():
        s.set_color(C_AX)
        s.set_linewidth(0.8)
    ax.set_ylabel(panel_labels[k], fontsize=14, color=C_AX, labelpad=2)
    if k < 2:
        ax.tick_params(labelbottom=False)
    else:
        ax.set_xlabel('Run Time [h]', fontsize=14, color=C_AX, labelpad=5)

fig.text(0.5, 1 - 32 / H, 'Attitude Estimation Error', ha='center',
         va='baseline', fontsize=23.5, color='k')

# Legend with a square frame spanning the lower two panels
fig.add_artist(Rectangle((0.754, 1 - 487 / H), 0.241, 117 / H,
                         transform=fig.transFigure, facecolor='white',
                         edgecolor=C_AX, lw=0.8, zorder=10))
handles = [Line2D([], [], color=C_KF, lw=1.0),
           Line2D([], [], color=C_INT, lw=1.0),
           Line2D([], [], color='k', ls=SIGMA_LS, lw=0.8),
           Patch(facecolor=C_ECL, edgecolor='none'),
           Patch(facecolor=C_NADIR, edgecolor='none')]
labels = ['Regular KF', '10s Int. Meas', r'$\sigma$', 'Eclipsed', 'Nadir Pointing']
leg = fig.legend(handles, labels, loc='upper left',
                 bbox_to_anchor=(0.789, 1 - 374 / H), frameon=False,
                 fontsize=12, handlelength=4.0, handleheight=1.0,
                 handletextpad=0.35, labelspacing=0.42, borderpad=0,
                 borderaxespad=0)
leg.set_zorder(11)

fig.savefig('out.png', dpi=100)
